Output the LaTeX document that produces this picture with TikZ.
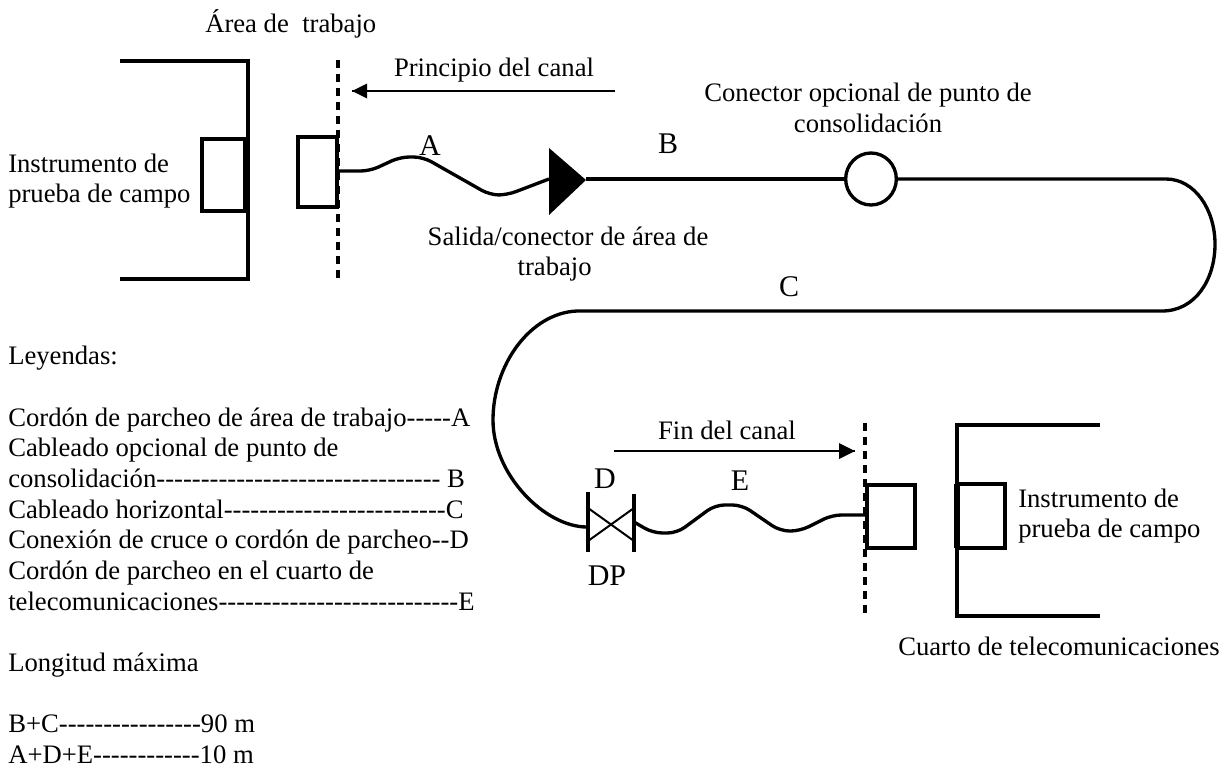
\documentclass[tikz,border=0pt]{standalone}
\usepackage{fontspec}
\usetikzlibrary{shapes.geometric}
\setmainfont{Liberation Serif}[Ligatures=TeXOff]
\begin{document}
\begin{tikzpicture}[x=0.75pt,y=-0.75pt,
 thickline/.style={line width=2.6pt,line join=miter},
 wire/.style={line width=2.5pt,line join=round},
 wavy/.style={wire,rounded corners=7pt},
 lab/.style={inner sep=0pt,font=\fontsize{20}{23}\selectfont,align=left},
 clab/.style={inner sep=0pt,font=\fontsize{20}{23}\selectfont,align=center},
 big/.style={inner sep=0pt,font=\fontsize{22.5}{26}\selectfont},
 guide/.style={line width=2.5pt,dash pattern=on 6pt off 4.5pt},
 arrowline/.style={line width=1.3pt}]
\useasboundingbox (0,0) rectangle (1231,771);
\fill[white] (0,0) rectangle (1231,771);
% texts
\node[lab,anchor=west] (t1) at (205,24) {Área de\ \ trabajo};
\node[clab] (t2) at (494,70) {Principio del canal};
\node[clab] (t3) at (868,108) {Conector opcional de punto de\\consolidación};
\node[lab,anchor=west] (t4) at (8,181) {Instrumento de\\prueba de campo};
\node[clab] (t5) at (568,254) {Salida/conector de área de\\trabajo\hspace*{20pt}};
\node[big] (A) at (430,146) {A};
\node[big] (B) at (668,144) {B};
\node[big] (C) at (789,287) {C};
\node[big] (D) at (605,479) {D};
\node[big] (E) at (740,481) {E};
\node[big] (DP) at (607,576) {DP};
\node[clab] (t6) at (727,430) {Fin del canal};
\node[lab,anchor=west] (t7) at (1018,516) {Instrumento de\\prueba de campo};
\node[lab,anchor=west] (t8) at (898,646) {Cuarto de telecomunicaciones};
\node[lab,anchor=north west] (leg) at (8,346) {Leyendas:\\[23pt]Cordón de parcheo de área de trabajo-----A\\Cableado opcional de punto de\\consolidación-------------------------------- B\\Cableado horizontal-------------------------C\\Conexión de cruce o cordón de parcheo--D\\Cordón de parcheo en el cuarto de\\telecomunicaciones---------------------------E\\[23pt]Longitud máxima\\[23pt]B+C----------------90 m\\A+D+E------------10 m};
% left instrument
\draw[thickline] (120,61) -- (248,61) -- (248,279) -- (120,279);
\draw[thickline] (202,139) rectangle (245,211);
\draw[line width=4pt] (246,139) -- (246,211);
\draw[thickline] (298,137) rectangle (337,207);
\draw[guide] (338,60) -- (338,281);
% arrow principle
\coordinate (p1) at (615,91);
\coordinate (p2) at (352,91);
\draw[arrowline] (p1) -- (p2);
\fill (p2) -- (367,83.5) -- (367,98.5) -- cycle;
% cable A
\draw[wavy] (338,171) -- (370,171) -- (400,157) -- (423,157) -- (490,195) -- (507,195) -- (549,179);
\fill (549,148) -- (586,180) -- (549,215) -- cycle;
% main line
\node[ellipse,draw,line width=2.5pt,minimum width=38pt,minimum height=39pt,inner sep=0pt] (ocirc) at (871,179) {};
\coordinate (tri) at (586,179);
\draw[wire] (tri) -- (ocirc.west);
\draw[wire] (ocirc.east) -- (1166,179) .. controls (1195,179) and (1215,210) .. (1215,244) .. controls (1215,280) and (1195,311) .. (1162,311) -- (577,311) .. controls (530,313) and (493,365) .. (493,420) .. controls (493,475) and (545,527) .. (587,527);
% cross-connect
\draw[wire] (588,492) -- (588,552);
\draw[wire] (634,494) -- (634,552);
\draw[line width=1.5pt] (588,508) -- (634,541);
\draw[line width=1.5pt] (588,541) -- (634,508);
% cable E
\draw[wavy] (634,522) -- (653,533) -- (677,533) -- (715,505) -- (742,505) -- (780,531) -- (800,531) -- (832,515) -- (865,515);
% end arrow
\coordinate (q1) at (614,451);
\coordinate (q2) at (855,451);
\draw[arrowline] (q1) -- (q2);
\fill (q2) -- (839,443) -- (839,459) -- cycle;
% right side
\draw[guide] (865,423) -- (865,618);
\draw[thickline] (867,485) rectangle (915,548);
\draw[thickline] (1100,425) -- (957,425) -- (957,616) -- (1100,616);
\draw[thickline] (957,484) rectangle (1005,548);
\draw[line width=4pt] (957,484) -- (957,548);
\end{tikzpicture}
\end{document}
